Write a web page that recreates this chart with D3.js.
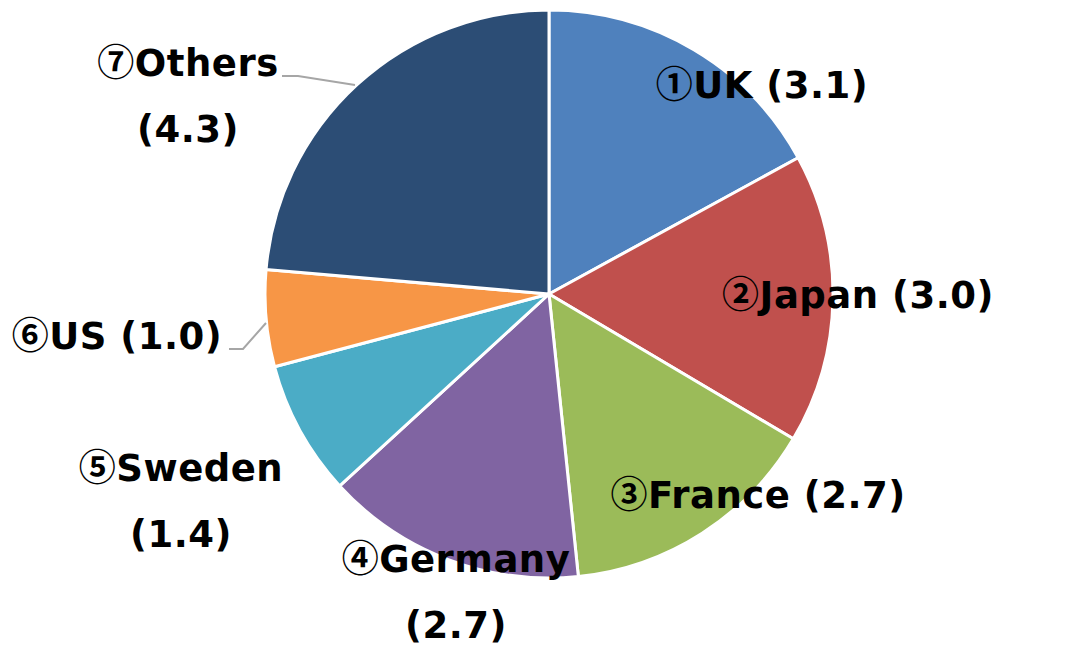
<!DOCTYPE html>
<html><head><meta charset="utf-8">
<script src="https://cdn.jsdelivr.net/npm/d3@7"></script>
<style>
html,body{margin:0;padding:0;background:#fff;}
text{font-family:"DejaVu Sans","Noto Sans CJK JP",sans-serif;font-weight:bold;fill:#000;}
tspan.num{font-family:"Noto Sans CJK JP",sans-serif;font-weight:bold;}
</style></head>
<body><svg id="c" width="1066" height="656"></svg>
<script>
const markers = ["①", "②", "③", "④", "⑤", "⑥", "⑦"];
const categories = ["UK", "Japan", "France", "Germany", "Sweden", "US", "Others"];
const values = [3.1, 3.0, 2.7, 2.7, 1.4, 1.0, 4.3];
const colors = ["#4F81BD", "#C0504D", "#9BBB59", "#8064A2", "#4BACC6", "#F79646", "#2C4D75"];

// label layout: [centerX, baselineY, twoLines]
const labelLayout = [
  [762, 98, false],
  [858, 308, false],
  [758, 508, false],
  [456, 572, true],
  [181, 481, true],
  [117, 349, false],
  [188, 76, true]
];
const leaders = {
  5: [[229, 349], [243, 349], [266, 323]],
  6: [[282, 76], [298, 76], [355, 85]]
};

const svg = d3.select("#c");
const cx = 549, cy = 294, r = 284;
const g = svg.append("g").attr("transform", `translate(${cx},${cy})`);
const pie = d3.pie().sort(null).value(d => d);
const arc = d3.arc().innerRadius(0).outerRadius(r);
const arcs = pie(values);
g.selectAll("path").data(arcs).enter().append("path")
  .attr("d", arc).attr("fill", (d, i) => colors[i])
  .attr("stroke", "#fff").attr("stroke-width", 3).attr("stroke-linejoin", "round");

const line = d3.line();
Object.entries(leaders).forEach(([k, pts]) => {
  svg.append("path").attr("d", line(pts)).attr("fill", "none")
    .attr("stroke", "#A6A6A6").attr("stroke-width", 2);
});

const fs = 37;
categories.forEach((c, i) => {
  const [x, y, two] = labelLayout[i];
  const v = "(" + values[i].toFixed(1) + ")";
  const t1 = svg.append("text").attr("x", x).attr("y", y).attr("text-anchor", "middle")
    .attr("font-size", fs).attr("letter-spacing", 0.5);
  t1.append("tspan").attr("class", "num").text(markers[i]);
  t1.append("tspan").text(two ? c : c + " " + v);
  if (two) {
    svg.append("text").attr("x", x).attr("y", y + 66).attr("text-anchor", "middle")
      .attr("font-size", fs).attr("letter-spacing", 0.5).text(v);
  }
});
</script></body></html>
